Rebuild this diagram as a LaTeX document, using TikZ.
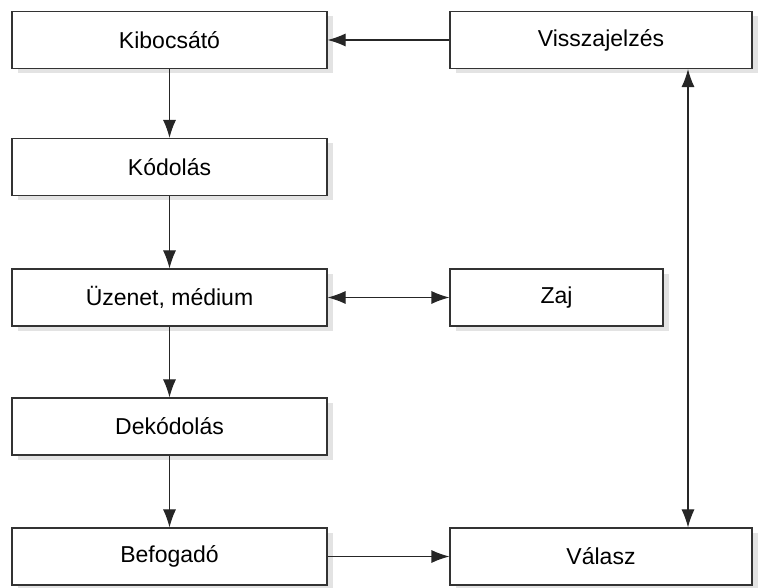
\documentclass[tikz,border=0pt]{standalone}
\usepackage{fontspec}
\setmainfont{Liberation Sans}
\usetikzlibrary{arrows.meta, shadows}

\begin{document}
\begin{tikzpicture}[x=1pt, y=1pt,
    doboz/.style={draw=black!80, line width=1.1pt, fill=white, minimum height=57pt,
                  inner sep=0pt, font=\fontsize{23}{26}\selectfont,
                  drop shadow={shadow xshift=6pt, shadow yshift=-5pt, fill=black!22}},
    szeles/.style={doboz, minimum width=315pt},
    jobb/.style={doboz, minimum width=302pt},
    nyil/.style={line width=1.1pt, draw=black!85, -{Latex[length=18pt, width=13pt]}},
    kettos/.style={line width=1.1pt, draw=black!85, {Latex[length=18pt, width=13pt]}-{Latex[length=18pt, width=13pt]}}]
    \useasboundingbox (0,0) rectangle (766,588);
    % bal oszlop
    \node[szeles] (kib) at (169.5,548) {Kibocsátó};
    \node[szeles] (kod) at (169.5,421) {Kódolás};
    \node[szeles] (uz)  at (169.5,290.5) {Üzenet, médium};
    \node[szeles] (dek) at (169.5,161.5) {Dekódolás};
    \node[szeles] (bef) at (169.5,31.5) {Befogadó};
    % jobb oszlop
    \node[jobb] (vissza) at (601,548) {Visszajelzés};
    \node[doboz, minimum width=213pt] (zaj) at (556.5,290.5) {Zaj};
    \node[jobb] (valasz) at (601,31.5) {Válasz};
    \coordinate (fb) at (688,0);
    % nyilak
    \draw[nyil] (kib) -- (kod);
    \draw[nyil] (kod) -- (uz);
    \draw[nyil] (uz) -- (dek);
    \draw[nyil] (dek) -- (bef);
    \draw[nyil] (vissza) -- (kib);
    \draw[kettos] (uz) -- (zaj);
    \draw[nyil] (bef) -- (valasz);
    \draw[kettos] (valasz.north -| fb) -- (vissza.south -| fb);
\end{tikzpicture}
\end{document}
